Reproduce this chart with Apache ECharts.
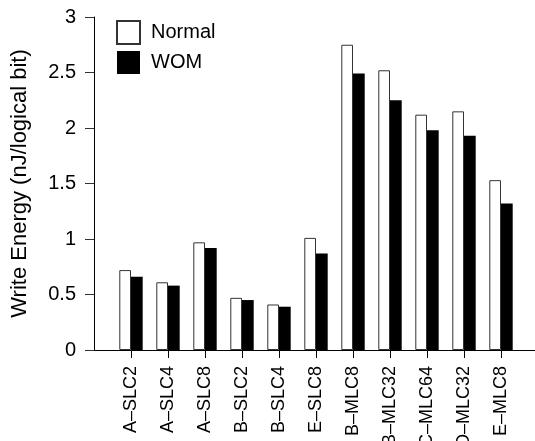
<!DOCTYPE html>
<html>
<head>
<meta charset="utf-8">
<script src="https://cdn.jsdelivr.net/npm/echarts@6/dist/echarts.min.js"></script>
<style>
  html, body { margin: 0; padding: 0; background: #fff; }
  #chart { width: 535px; height: 441px; }
</style>
</head>
<body>
<div id="chart"></div>
<script>
const categories = ['A–SLC2', 'A–SLC4', 'A–SLC8', 'B–SLC2', 'B–SLC4', 'E–SLC8',
                    'B–MLC8', 'B–MLC32', 'C–MLC64', 'D–MLC32', 'E–MLC8'];
const normalValues = [0.72, 0.61, 0.97, 0.47, 0.41, 1.01, 2.75, 2.52, 2.12, 2.15, 1.53];
const womValues = [0.66, 0.58, 0.92, 0.45, 0.39, 0.87, 2.49, 2.25, 1.98, 1.93, 1.32];
const yTicks = { min: 0, max: 3, interval: 0.5 };

const font = 'Liberation Sans, Arial, Helvetica, sans-serif';

// the plot leaves one empty slot on each side of the bars
const axisData = [''].concat(categories, ['']);
const pad = arr => [null].concat(arr, [null]);

let myChart = echarts.init(document.getElementById('chart'));

let option = {
    animation: false,
    backgroundColor: '#fff',
    textStyle: { fontFamily: font },
    grid: { left: 94, right: -3, top: 17, bottom: 91, outerBoundsMode: 'none', containLabel: false },
    legend: {
        orient: 'vertical',
        left: 116,
        top: 20,
        padding: 0,
        itemWidth: 23,
        itemHeight: 23,
        itemGap: 6,
        icon: 'rect',
        textStyle: { fontSize: 20, color: '#000', fontFamily: font, padding: [0, 0, 0, 6] },
        data: ['Normal', 'WOM']
    },
    xAxis: {
        type: 'category',
        data: axisData,
        boundaryGap: false,
        axisLine: { lineStyle: { color: '#000', width: 1 } },
        axisTick: {
            length: 8,
            interval: (i, v) => v !== '',
            lineStyle: { color: '#000' }
        },
        axisLabel: {
            rotate: 90,
            interval: 0,
            margin: 16,
            fontSize: 18,
            color: '#000',
            fontFamily: font
        },
        splitLine: { show: false }
    },
    yAxis: {
        type: 'value',
        min: yTicks.min,
        max: yTicks.max,
        interval: yTicks.interval,
        name: 'Write Energy (nJ/logical bit)',
        nameLocation: 'middle',
        nameGap: 63,
        nameTextStyle: { fontSize: 22, color: '#000', fontFamily: font },
        axisLine: { show: true, lineStyle: { color: '#000', width: 1 } },
        axisTick: { show: true, length: 9, lineStyle: { color: '#333' } },
        axisLabel: { margin: 18, fontSize: 20, color: '#000', fontFamily: font },
        splitLine: { show: false }
    },
    series: [
        {
            name: 'Normal',
            type: 'bar',
            data: pad(normalValues),
            barWidth: 11.7,
            barGap: '0%',
            itemStyle: { color: '#fff', borderColor: '#333', borderWidth: 1 }
        },
        {
            name: 'WOM',
            type: 'bar',
            data: pad(womValues),
            barWidth: 11.7,
            itemStyle: { color: '#000' }
        }
    ]
};
myChart.setOption(option);
</script>
</body>
</html>
